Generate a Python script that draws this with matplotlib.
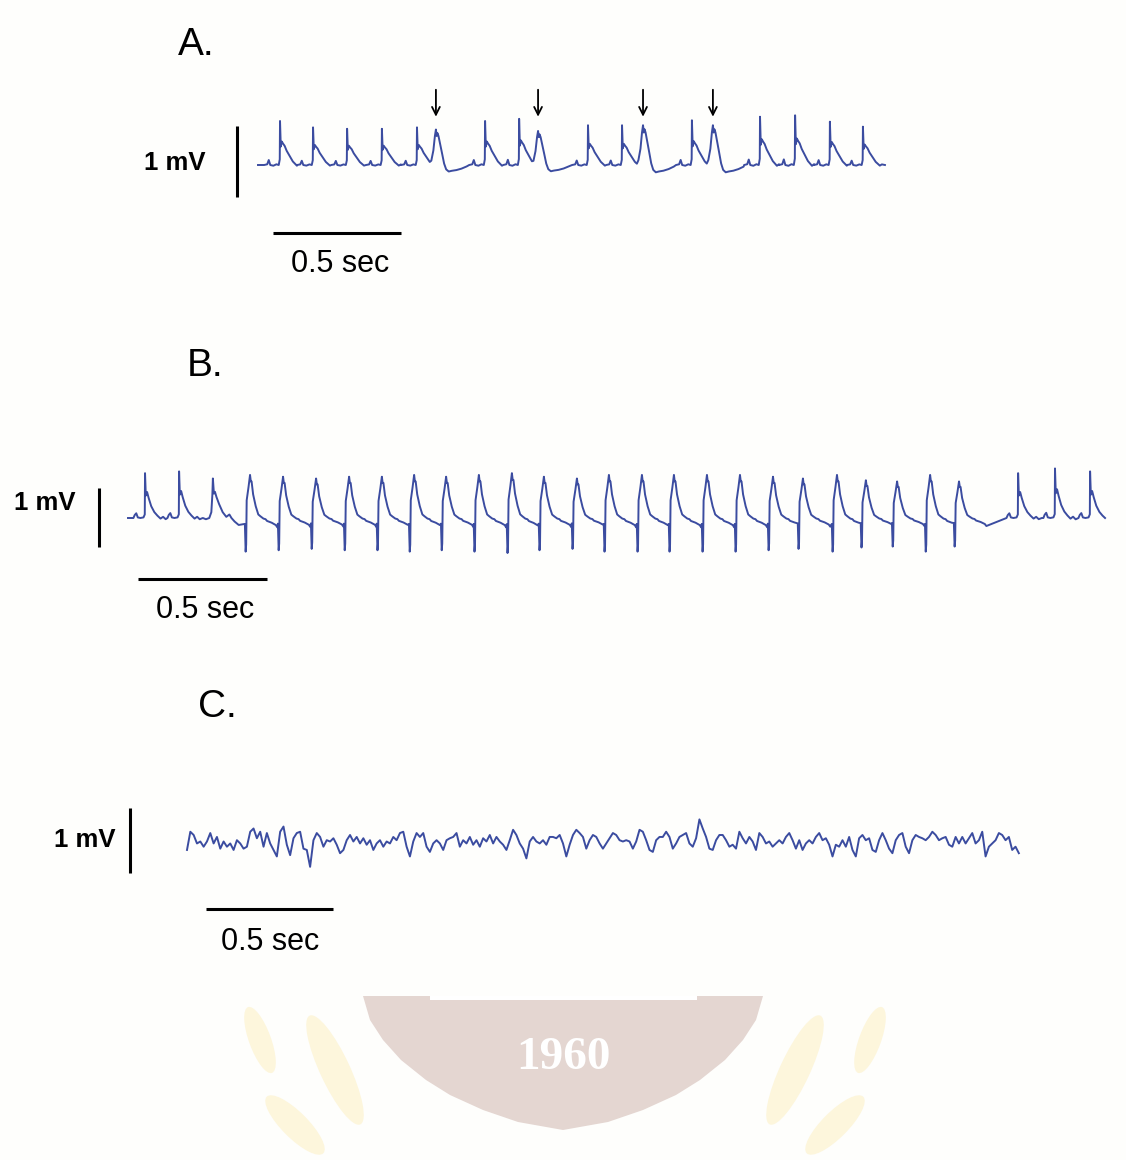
import matplotlib
matplotlib.use("Agg")
import matplotlib.pyplot as plt
import numpy as np
from matplotlib.patches import Polygon, Ellipse

W, H = 1126, 1160

# ---- panel A: sinus beats with interpolated extra beats (arrows) ----
a_beat_s = [0.086, 0.215, 0.348, 0.484, 0.621, 0.695, 0.887, 1.020, 1.094,
            1.289, 1.422, 1.504, 1.695, 1.777, 1.961, 2.098, 2.234, 2.363]
a_kind = list("NNNNNVNNVNNVNVNNNN")
a_peak_mv = [0.62, 0.53, 0.51, 0.51, 0.53, 0.50, 0.62, 0.65, 0.48,
             0.56, 0.56, 0.56, 0.63, 0.56, 0.68, 0.70, 0.61, 0.54]
a_end_s = 2.449

# complex shapes, (ms from peak, mV)
a_shapes = {
    "N": ([-62, -50, -44, -38, -26, -14, -5, -1, 0, 3, 7, 12, 18, 26, 34, 42, 50, 58, 66, 74],
          [0.0, 0.01, 0.07, 0.0, -0.01, 0.01, 0.0, 0.08, 0.62, 0.26, 0.33, 0.30, 0.27, 0.20,
           0.15, 0.10, 0.05, 0.02, -0.01, 0.01]),
    "V": ([-18, -10, -4, 0, 3, 6, 10, 16, 24, 32, 40, 50, 62, 80, 100, 120],
          [0.06, 0.20, 0.40, 0.49, 0.40, 0.44, 0.40, 0.30, 0.16, 0.02, -0.06, -0.09,
           -0.08, -0.07, -0.05, -0.02]),
}

# ---- panel B: sinus beats, run of wide complexes, sinus again ----
b_beat_s = [0.066, 0.198, 0.329,
            0.473, 0.601, 0.729, 0.857, 0.984, 1.109, 1.233,
            1.360, 1.488, 1.612, 1.740, 1.864, 1.992, 2.116, 2.244, 2.372,
            2.500,
            2.616, 2.748, 2.860, 2.981, 3.109, 3.221,
            3.450, 3.593, 3.729]
b_kind = list("NNT" + "WWWWWWW" + "WWWWWWWWW" + "W" + "WWWWWW" + "NNN")
b_peak_mv = [0.76, 0.79, 0.67,
             0.73, 0.70, 0.67, 0.70, 0.70, 0.73, 0.70,
             0.73, 0.76, 0.70, 0.67, 0.73, 0.73, 0.73, 0.73, 0.73,
             0.70,
             0.67, 0.73, 0.64, 0.62, 0.73, 0.62,
             0.76, 0.84, 0.79]
b_end_s = 3.787

b_shapes = {
    "N": ([-45, -40, -34, -28, -18, -6, -1, 0, 3, 8, 14, 24, 36, 48, 60, 70, 80, 92, 104],
          [0.0, 0.05, 0.08, 0.01, 0.0, 0.01, 0.06, 0.76, 0.38, 0.44, 0.34, 0.20, 0.10,
           0.04, -0.01, 0.02, -0.02, 0.0, -0.02]),
    "T": ([-14, -6, -2, 0, 4, 8, 14, 24, 38, 52, 64, 72, 84, 100],
          [0.0, 0.10, 0.40, 0.68, 0.42, 0.45, 0.36, 0.24, 0.10, 0.02, 0.06, 0.0, -0.06, -0.12]),
    "W": ([-20, -17, -15, -13, -6, 0, 3, 6, 12, 22, 32, 40, 52, 60, 66, 84, 100, 106],
          [-0.10, -0.57, -0.45, 0.30, 0.52, 0.73, 0.62, 0.62, 0.40, 0.20, 0.06, 0.03,
           -0.01, -0.02, -0.05, -0.08, -0.12, -0.16]),
}

# ---- panel C: fibrillation-like trace, one reading every sample ----
C_SAMPLE_S = 0.0131
c_mv = [
    -0.03, 0.25, 0.20, 0.07, 0.10, 0.02, 0.10, 0.23, 0.07, 0.17,
    -0.01, 0.10, 0.02, 0.07, -0.03, 0.12, 0.07, -0.01, 0.02, 0.25,
    0.30, 0.15, 0.25, 0.02, 0.23, 0.07, -0.03, -0.13, 0.25, 0.33,
    0.05, -0.11, 0.15, 0.23, 0.25, -0.01, -0.03, -0.29, 0.12, 0.23,
    0.17, 0.02, 0.12, 0.10, 0.15, 0.05, -0.08, -0.03, 0.12, 0.20,
    0.10, 0.17, 0.07, 0.15, 0.05, 0.12, -0.03, 0.07, 0.12, 0.02,
    0.10, 0.07, 0.17, 0.12, 0.23, 0.25, 0.02, -0.13, 0.10, 0.23,
    0.17, 0.23, 0.02, -0.06, 0.07, 0.12, 0.07, -0.03, 0.12, 0.15,
    0.17, 0.23,
    0.02, 0.12, 0.07, 0.17, 0.05, 0.12, 0.02, 0.15, 0.10, 0.20,
    0.07, 0.17, 0.10, 0.05, -0.03, 0.12, 0.28, 0.20, 0.07, -0.01,
    -0.16, 0.10, 0.17, 0.10, 0.07, 0.12, 0.05, 0.17, 0.17, 0.15,
    0.20, 0.07, -0.13, 0.05, 0.20, 0.28, 0.23, 0.17, -0.01, 0.12,
    0.20, 0.17, 0.07, -0.01, 0.07, 0.15, 0.23, 0.20, 0.12, 0.10,
    0.12, 0.10, -0.01, 0.10, 0.28, 0.25, 0.12, -0.03, -0.06, 0.12,
    0.17, 0.17, 0.25, 0.17, -0.01, 0.07, 0.17, 0.20, 0.23, 0.07,
    0.02, 0.15, 0.44, 0.30, 0.17, -0.01, -0.03, 0.12, 0.20, 0.20,
    0.12, 0.02, 0.05, -0.01,
    0.25, 0.15, 0.07, 0.17, 0.10, -0.03, 0.23, 0.17, 0.07, 0.10,
    0.02, 0.07, 0.12, 0.07, 0.17, 0.23, 0.12, -0.01, 0.12, -0.03,
    0.07, 0.12, 0.07, 0.17, 0.23, 0.12, 0.15, 0.05, -0.13, 0.05,
    0.02, 0.12, 0.02, 0.17, -0.03, -0.13, 0.15, 0.20, 0.12, 0.15,
    -0.03, -0.06, 0.12, 0.23, 0.12, -0.01, -0.08, 0.12, 0.20, 0.23,
    0.02, -0.08, 0.12, 0.20, 0.17, 0.15, 0.12, 0.17, 0.25, 0.20,
    0.12, 0.15, 0.17, 0.05, 0.02, 0.17, 0.07, 0.17, 0.07, 0.15,
    0.23, 0.07, 0.12, 0.25, -0.13, 0.02, 0.07, 0.12, 0.23, 0.20,
    0.12, 0.17, -0.03, 0.02, -0.08,
]

TRACE_COLOR = "#3b4ca0"

# pixel layout of each panel: origin = (x at t=0, y at 0 mV), scale = (px/s, px/mV)
LAYOUT = {
    "A": dict(origin=(258, 165), scale=(256, 71), label=(196, 45), mv_text=(206, 163),
              mv_bar=(237, 197), sec_bar=(273, 233), sec_text=(340, 264)),
    "B": dict(origin=(128, 518), scale=(258, 59), label=(205, 366), mv_text=(76, 503),
              mv_bar=(99, 547), sec_bar=(138, 579), sec_text=(205, 610)),
    "C": dict(origin=(187, 848), scale=(254, 65), label=(217, 707), mv_text=(116, 840),
              mv_bar=(130, 873), sec_bar=(206, 909), sec_text=(270, 942)),
}


def build_trace(beat_s, kinds, peaks, shapes, end_s):
    t, v = [0.0], [0.0]
    for i, (bt, kind, peak) in enumerate(zip(beat_s, kinds, peaks)):
        offs, vals = shapes[kind]
        gain = peak / max(vals)
        if i + 1 < len(beat_s):
            stop = beat_s[i + 1] + shapes[kinds[i + 1]][0][0] / 1000
        else:
            stop = end_s
        for dt, val in zip(offs, vals):
            tt = bt + dt / 1000
            if tt <= t[-1] or tt >= stop:
                continue
            t.append(tt)
            v.append(val * gain)
    t.append(end_s)
    v.append(0.0)
    return np.array(t), np.array(v)


def fig_xy(px, py):
    return px / W, 1 - py / H


def panel_axes(fig, lay):
    ox, oy = lay["origin"]
    sx, sy = lay["scale"]
    ax = fig.add_axes([0, 0, 1, 1])
    ax.set_xlim(-ox / sx, (W - ox) / sx)
    ax.set_ylim((oy - H) / sy, oy / sy)
    ax.axis("off")
    ax.patch.set_alpha(0)
    return ax


def to_data(lay, px, py):
    ox, oy = lay["origin"]
    sx, sy = lay["scale"]
    return (px - ox) / sx, (oy - py) / sy


def decorate(fig, ax, name, lay):
    fig.text(*fig_xy(*lay["label"]), f"{name}.", fontsize=28, ha="center", va="center")
    fig.text(*fig_xy(*lay["mv_text"]), "1 mV", fontsize=18.5, fontweight="bold",
             ha="right", va="center")
    fig.text(*fig_xy(*lay["sec_text"]), "0.5 sec", fontsize=22, ha="center", va="center")
    bx, by = to_data(lay, *lay["mv_bar"])
    ax.plot([bx, bx], [by, by + 1.0], color="black", lw=2.2, solid_capstyle="butt")
    sx0, sy0 = to_data(lay, *lay["sec_bar"])
    ax.plot([sx0, sx0 + 0.5], [sy0, sy0], color="black", lw=2.2, solid_capstyle="butt")


fig = plt.figure(figsize=(W / 100, H / 100), dpi=100)
fig.patch.set_facecolor("#fefefc")
plt.rcParams["font.family"] = ["Liberation Sans", "DejaVu Sans"]

# faint watermark (shield and laurels) at the bottom of the page
bg = fig.add_axes([0, 0, 1, 1])
bg.set_xlim(0, W)
bg.set_ylim(H, 0)
bg.axis("off")
for cx, cy, w, h, ang in [(335, 1070, 30, 120, -25), (295, 1125, 26, 80, -45),
                          (795, 1070, 30, 120, 25), (835, 1125, 26, 80, 45),
                          (870, 1040, 22, 70, 20), (260, 1040, 22, 70, -20)]:
    leaf = Ellipse((cx, cy), w, h, angle=ang, facecolor="#fdf6dc", edgecolor="none")
    bg.add_patch(leaf)
    leaf.set_clip_path(Polygon([(0, 998), (W, 998), (W, H), (0, H)], transform=bg.transData))
half = [(996, 200), (1020, 193), (1040, 180), (1060, 162), (1080, 137),
        (1095, 113), (1110, 80), (1122, 45), (1130, 0)]
shield = [(563 + hw, y) for y, hw in half] + [(563 - hw, y) for y, hw in half[::-1]]
bg.add_patch(Polygon(shield, closed=True, facecolor="#e4d6d1", edgecolor="none"))
bg.add_patch(Polygon([(430, 996), (697, 996), (697, 1000), (430, 1000)],
                     facecolor="white", edgecolor="none"))
bg.text(563, 1058, "1960", fontsize=34, fontweight="bold", color="white",
        family=["Liberation Serif", "DejaVu Serif"], ha="center", va="center")

# panel A
lay = LAYOUT["A"]
ax = panel_axes(fig, lay)
ta, va = build_trace(a_beat_s, a_kind, a_peak_mv, a_shapes, a_end_s)
ax.plot(ta, va, color=TRACE_COLOR, lw=1.4)
for bt, kind, peak in zip(a_beat_s, a_kind, a_peak_mv):
    if kind == "V":
        ax.annotate("", xy=(bt, 0.68), xytext=(bt, 1.06),
                    arrowprops=dict(arrowstyle="->", color="black", lw=1.3,
                                    mutation_scale=14, shrinkA=0, shrinkB=0))
decorate(fig, ax, "A", lay)

# panel B
lay = LAYOUT["B"]
ax = panel_axes(fig, lay)
tb, vb = build_trace(b_beat_s, b_kind, b_peak_mv, b_shapes, b_end_s)
ax.plot(tb, vb, color=TRACE_COLOR, lw=1.4)
decorate(fig, ax, "B", lay)

# panel C
lay = LAYOUT["C"]
ax = panel_axes(fig, lay)
tc = np.arange(len(c_mv)) * C_SAMPLE_S
ax.plot(tc, c_mv, color=TRACE_COLOR, lw=1.4)
decorate(fig, ax, "C", lay)

fig.savefig("out.png", dpi=100, facecolor=fig.get_facecolor())
